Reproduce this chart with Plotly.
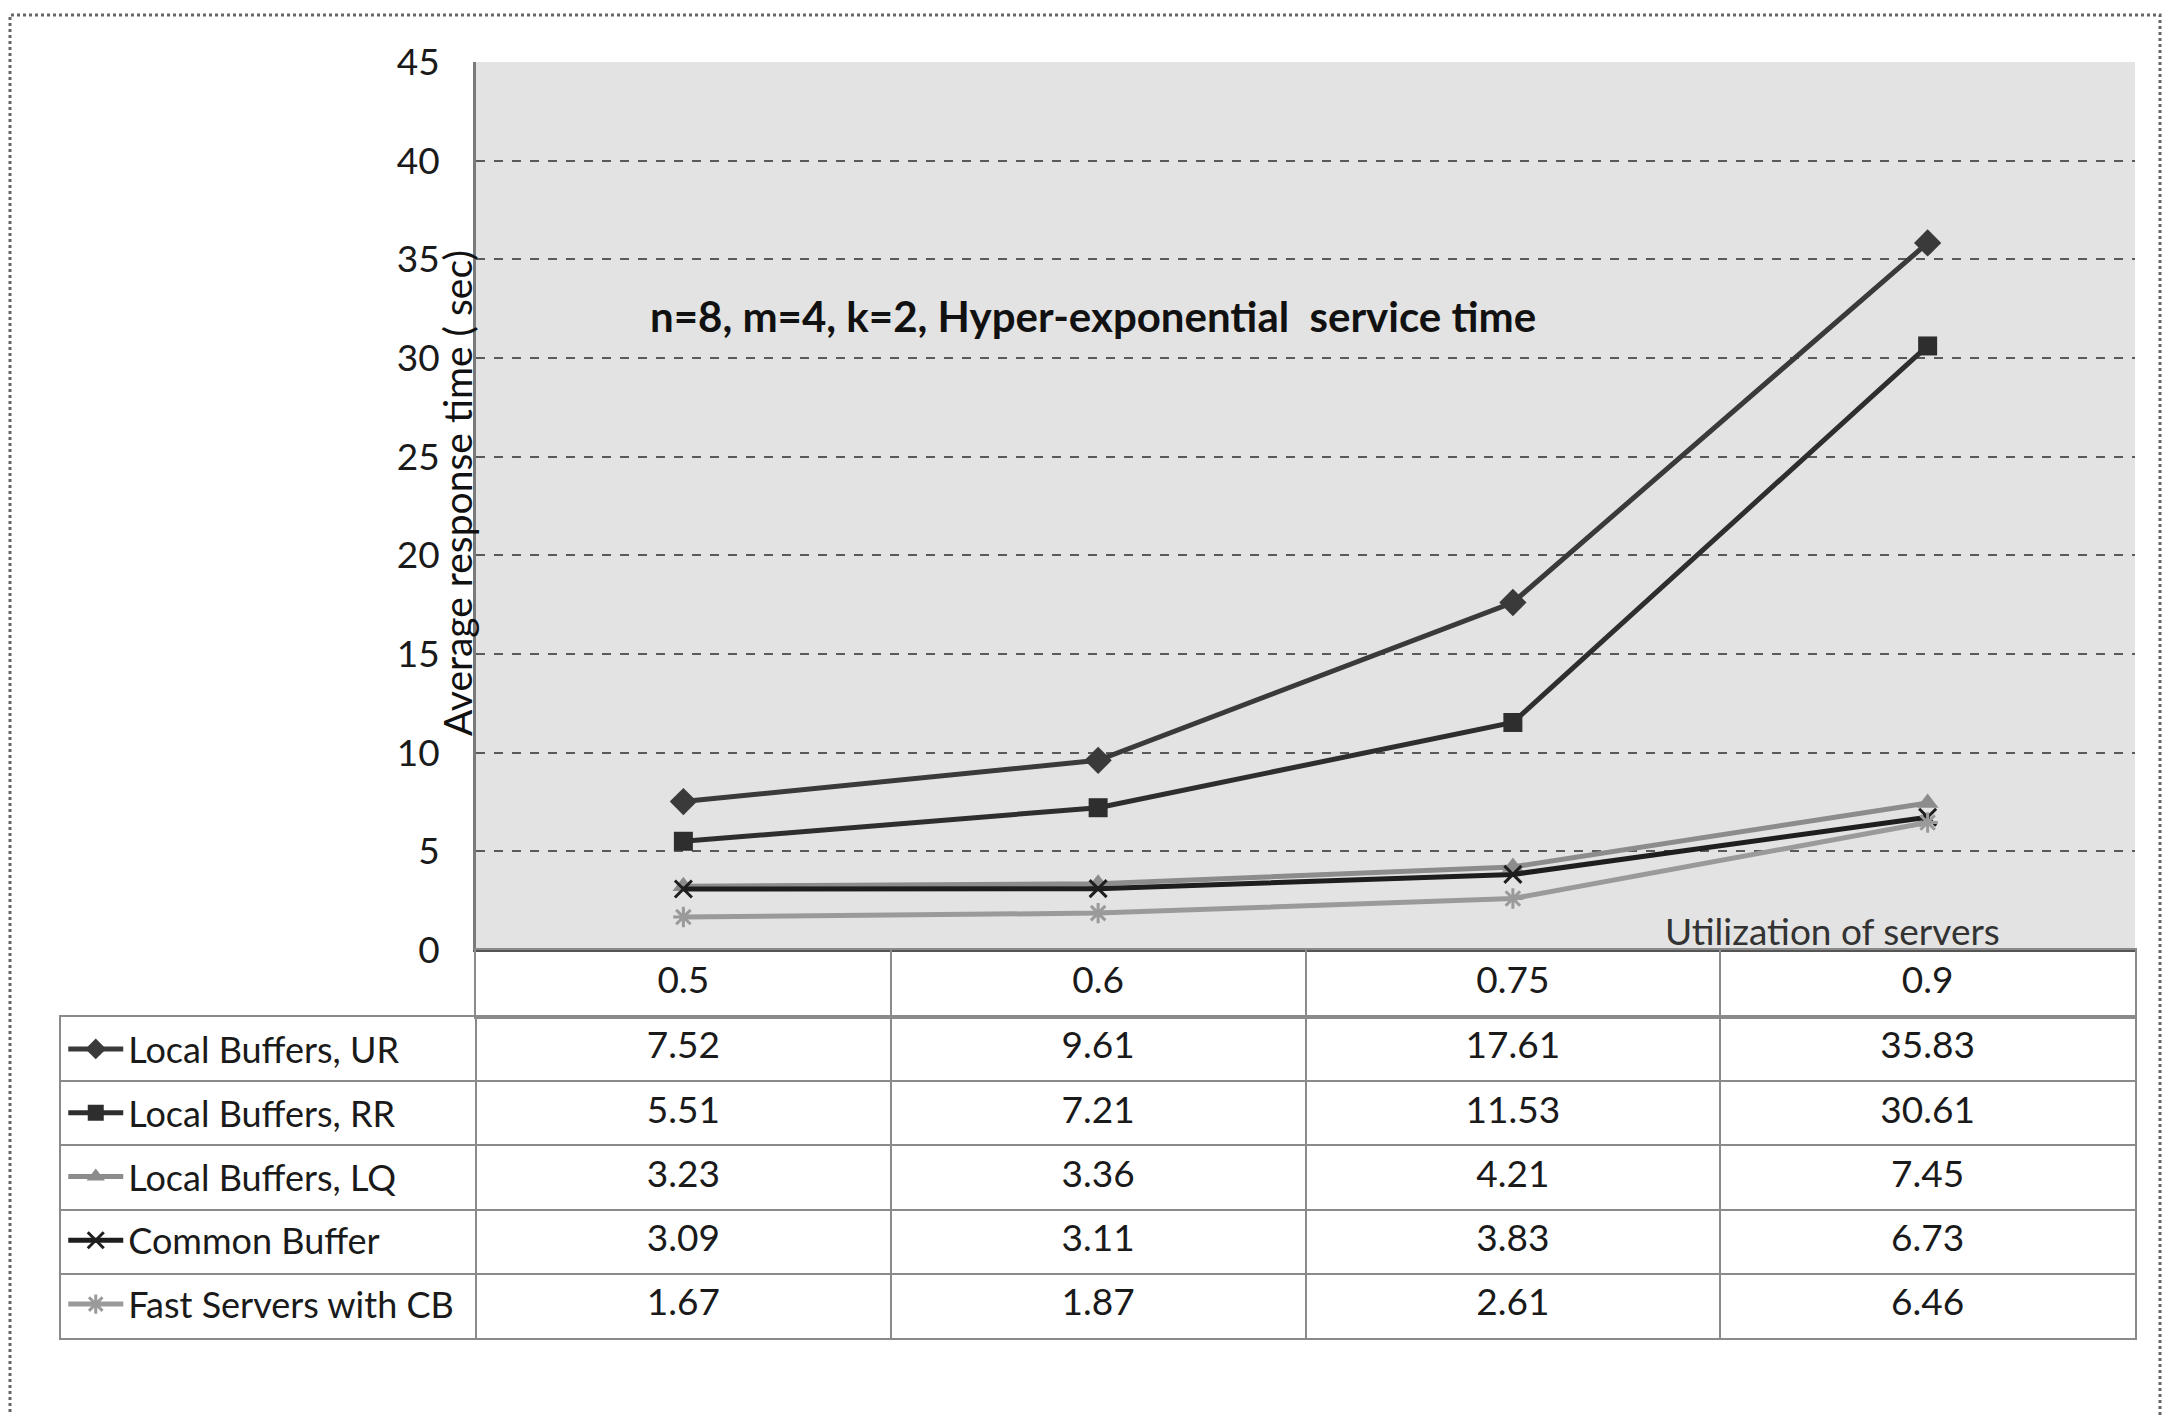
import plotly.graph_objects as go

# ---------------- data ----------------
utilization = ["0.5", "0.6", "0.75", "0.9"]
series_names = ["Local Buffers, UR", "Local Buffers, RR", "Local Buffers, LQ",
                "Common Buffer", "Fast Servers with CB"]
local_ur = [7.52, 9.61, 17.61, 35.83]
local_rr = [5.51, 7.21, 11.53, 30.61]
local_lq = [3.23, 3.36, 4.21, 7.45]
common_buffer = [3.09, 3.11, 3.83, 6.73]
fast_servers_cb = [1.67, 1.87, 2.61, 6.46]
y_ticks = [0, 5, 10, 15, 20, 25, 30, 35, 40, 45]

series_values = [local_ur, local_rr, local_lq, common_buffer, fast_servers_cb]

# ---------------- styles ----------------
W, H = 2163, 1415
FONT = "Lato"
TXT = "#1a1a1a"
BORDER = "#8a8a8a"
styles = [
    dict(color="#3a3a3a", symbol="diamond", size=21, lw=0),
    dict(color="#2e2e2e", symbol="square", size=19, lw=0),
    dict(color="#8c8c8c", symbol="triangle-up", size=19, lw=0),
    dict(color="#1e1e1e", symbol="x-thin", size=17, lw=3),
    dict(color="#9a9a9a", symbol="asterisk", size=17, lw=3),
]

def px_x(p):
    return p / W

def px_y(p):
    return 1 - p / H

plot_left, plot_right = 476, 2135
plot_top, plot_bottom = 62, 950
header_bottom = 1017
table_bottom = 1338
col_w = (plot_right - plot_left) / 4
body_left = plot_left - col_w

fig = go.Figure()

# ---- chart lines ----
for name, vals, st in zip(series_names, series_values, styles):
    fig.add_trace(go.Scatter(
        x=utilization, y=vals, name=name, mode="lines+markers",
        legendgroup=name, xaxis="x", yaxis="y",
        line=dict(color=st["color"], width=5),
        marker=dict(symbol=st["symbol"], size=st["size"], color=st["color"],
                    line=dict(color=st["color"], width=st["lw"])),
    ))

# ---- data table: header row (x3/y3) ----
fig.add_trace(go.Scatter(
    x=utilization, y=["header"] * len(utilization), text=utilization,
    mode="text", textposition="middle center", showlegend=False,
    hoverinfo="skip", xaxis="x3", yaxis="y3",
    textfont=dict(family=FONT, size=37, color=TXT),
))

# ---- data table: body rows (x2/y2) ----
for name, vals in zip(series_names, series_values):
    fig.add_trace(go.Scatter(
        x=utilization, y=[name] * len(vals), text=[f"{v:.2f}" for v in vals],
        mode="text", textposition="middle center", showlegend=False,
        hoverinfo="skip", xaxis="x2", yaxis="y2",
        textfont=dict(family=FONT, size=37, color=TXT),
    ))

table_axis = dict(
    type="category", showticklabels=False, ticks="", tickson="boundaries",
    showgrid=True, gridcolor=BORDER, gridwidth=2, zeroline=False,
    showline=True, mirror=True, linecolor=BORDER, linewidth=2,
    fixedrange=True,
)

fig.update_layout(
    width=W, height=H,
    margin=dict(l=0, r=0, t=0, b=0, autoexpand=False),
    paper_bgcolor="white",
    plot_bgcolor="white",
    font=dict(family=FONT, size=30, color=TXT),
    showlegend=True,
    legend=dict(
        x=px_x(body_left + 2), y=px_y(header_bottom + 2),
        xanchor="left", yanchor="top",
        bgcolor="rgba(0,0,0,0)", borderwidth=0,
        font=dict(family=FONT, size=36, color=TXT),
        tracegroupgap=14, itemwidth=55, traceorder="grouped",
    ),
    xaxis=dict(
        domain=[px_x(plot_left), px_x(plot_right)],
        type="category", showticklabels=False, ticks="",
        showgrid=False, zeroline=False,
        showline=True, linecolor="#555555", linewidth=2,
        range=[-0.5, 3.5],
    ),
    yaxis=dict(
        domain=[px_y(plot_bottom), px_y(plot_top)],
        range=[0, 45], tickvals=y_ticks,
        showgrid=True, gridcolor="#5a5a5a", griddash="dash", gridwidth=1.5,
        zeroline=False,
        showline=True, linecolor="#7a7a7a", linewidth=3,
        ticks="", ticklabelstandoff=26,
        tickfont=dict(family=FONT, size=37, color=TXT),
    ),
    xaxis2=dict(table_axis,
                domain=[px_x(body_left), px_x(plot_right)],
                categoryorder="array",
                categoryarray=["legend"] + utilization,
                range=[-0.5, len(utilization) + 0.5],
                anchor="y2"),
    yaxis2=dict(table_axis,
                domain=[px_y(table_bottom), px_y(header_bottom)],
                categoryorder="array", categoryarray=series_names,
                range=[len(series_names) - 0.5, -0.5],
                anchor="x2"),
    xaxis3=dict(table_axis,
                domain=[px_x(plot_left), px_x(plot_right)],
                categoryorder="array", categoryarray=utilization,
                range=[-0.5, len(utilization) - 0.5],
                anchor="y3"),
    yaxis3=dict(table_axis,
                domain=[px_y(header_bottom), px_y(plot_bottom)],
                categoryorder="array", categoryarray=["header"],
                range=[0.5, -0.5], showgrid=False,
                anchor="x3"),
    annotations=[
        dict(text="<b>n=8, m=4, k=2, Hyper-exponential  service time</b>",
             xref="paper", yref="paper", x=px_x(648), y=px_y(316),
             xanchor="left", yanchor="middle", showarrow=False,
             font=dict(family=FONT, size=42, color="#111111")),
        dict(text="Average response time ( sec)", textangle=-90,
             xref="paper", yref="paper", x=px_x(457), y=px_y(493),
             xanchor="center", yanchor="middle", showarrow=False,
             font=dict(family=FONT, size=39, color="#111111")),
        dict(text="Utilization of servers",
             xref="paper", yref="paper", x=px_x(1832), y=px_y(930),
             xanchor="center", yanchor="middle", showarrow=False,
             font=dict(family=FONT, size=37, color="#333333")),
    ],
    shapes=[
        dict(type="rect", xref="x domain", yref="y domain",
             x0=0, x1=1, y0=0, y1=1, fillcolor="#e3e3e3",
             line=dict(width=0), layer="below"),
        dict(type="rect", xref="paper", yref="paper",
             x0=px_x(10), x1=px_x(2160), y0=px_y(1425), y1=px_y(15),
             line=dict(color="#666666", width=3, dash="dot"), layer="below"),
    ],
)

fig.write_html("out.html")
